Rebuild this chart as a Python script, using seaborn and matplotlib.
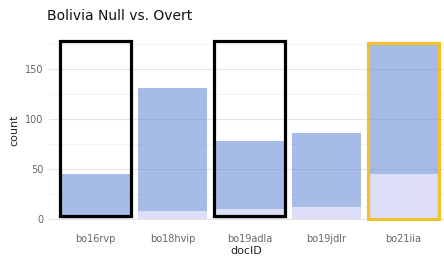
import pandas as pd
import seaborn as sns
import matplotlib.pyplot as plt
from matplotlib.ticker import MultipleLocator

# values
doc_ids = ['bo16rvp', 'bo18hvip', 'bo19adla', 'bo19jdlr', 'bo21iia']
null_counts = [4, 8, 10, 12, 45]
overt_counts = [41, 123, 68, 74, 131]

# highlighted documents
boxed_docs = ['bo16rvp', 'bo19adla']
boxed_top = [178, 178]
boxed_bottom = [3, 3]
gold_doc = ['bo21iia']
gold_top = [176]

df = pd.DataFrame({'docID': doc_ids, 'null': null_counts, 'overt': overt_counts})

sns.set_theme(style='white')
plt.rcParams['font.family'] = ['DejaVu Sans']

fig = plt.figure(figsize=(4.44, 2.56), dpi=100)
ax = fig.add_axes([0.111, 0.109, 0.889, 0.766])

# gridlines like ggplot's theme_minimal
ax.yaxis.set_major_locator(MultipleLocator(50))
ax.yaxis.set_minor_locator(MultipleLocator(25))
ax.grid(True, which='major', axis='both', color='#e6e6e6', linewidth=0.8)
ax.grid(True, which='minor', axis='y', color='#f2f2f2', linewidth=0.6)
ax.set_axisbelow(True)

# stacked bars: null at the bottom, overt on top
sns.barplot(data=df, x='docID', y='null', order=doc_ids, color='#bbc1f1',
            saturation=1, alpha=0.5, width=0.9, linewidth=0, ax=ax)
sns.barplot(data=df, x='docID', y='overt', order=doc_ids, color='#4f79cd',
            saturation=1, alpha=0.5, width=0.9, linewidth=0,
            bottom=df['null'].values, ax=ax)

# black outline boxes
box_heights = [t - b for t, b in zip(boxed_top, boxed_bottom)]
sns.barplot(x=boxed_docs, y=box_heights, order=doc_ids, fill=False, color='black',
            width=0.92, bottom=boxed_bottom, edgecolor='black', linewidth=2.3, ax=ax)
# gold outline
sns.barplot(x=gold_doc, y=gold_top, order=doc_ids, fill=False, color='#f2c12e',
            saturation=1, width=0.92, edgecolor='#f2c12e', linewidth=2.3, ax=ax)

ax.set_xlim(-0.6, 4.53)
ax.set_ylim(-8.9, 186.9)
for s in ax.spines.values():
    s.set_visible(False)
ax.tick_params(axis='both', which='both', length=0, labelsize=7, labelcolor='#666666', pad=4)
ax.set_yticks([0, 50, 100, 150])
ax.set_xlabel('docID', fontsize=8, color='#222222', labelpad=2)
ax.set_ylabel('count', fontsize=8, color='#222222', labelpad=4)
ax.set_title('Bolivia Null vs. Overt', fontsize=10, color='#111111', loc='left', x=-0.005, pad=9)

fig.savefig('out.png', dpi=100)
